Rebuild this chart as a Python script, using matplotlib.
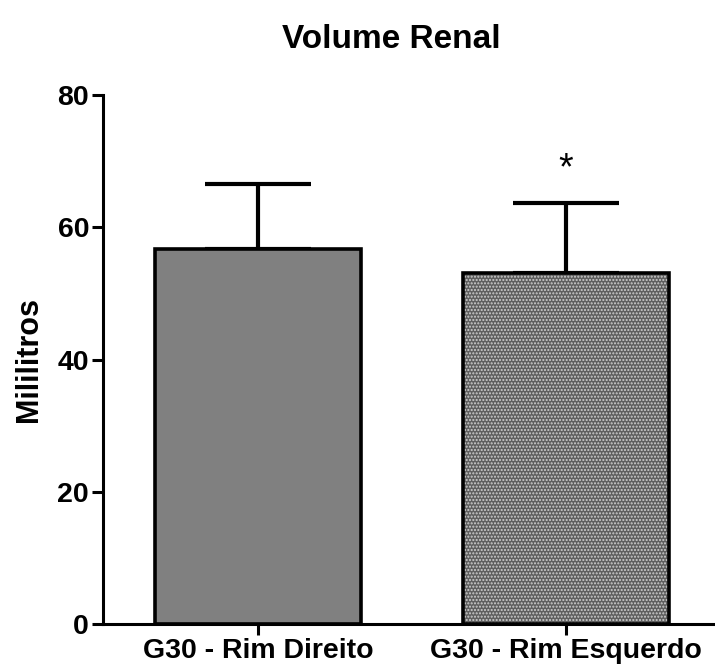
import numpy as np
import matplotlib
matplotlib.use("Agg")
import matplotlib.pyplot as plt

# datos
grupos = ['G30 - Rim Direito', 'G30 - Rim Esquerdo']
medias = [56.7, 53.1]
erros = [9.8, 10.5]
cores = ['#808080', '#8a8a8a']

plt.rcParams['font.family'] = ['Liberation Sans', 'DejaVu Sans']
plt.rcParams['font.weight'] = 'bold'

fig = plt.figure(figsize=(7.15, 6.7), dpi=100)
ax = fig.add_axes([103/715, 1-624/670, 1-103/715, (624-95)/670])

x = np.arange(len(grupos))
largura = 0.67

# barra 1 lisa
ax.bar(x[0], medias[0], largura, color=cores[0], edgecolor='black', linewidth=2.6, zorder=2)
# barra 2 com textura
ax.bar(x[1], medias[1], largura, color='#5e5e5e', edgecolor='#cfcfcf', hatch='.....',
       linewidth=0, zorder=2)
ax.bar(x[1], medias[1], largura, fill=False, edgecolor='black', linewidth=2.6, zorder=3)

# barras de erro (so para cima)
ax.errorbar(x, medias, yerr=[np.zeros(len(erros)), erros], fmt='none', ecolor='black',
            elinewidth=3, capsize=38, capthick=3, zorder=1)

ax.text(x[1], 68.8, '*', ha='center', va='center', fontsize=27, fontweight='normal')

ax.set_xlim(-0.503, 1.484)
ax.set_ylim(0, 80)
ax.set_yticks([0, 20, 40, 60, 80])
ax.set_xticks(x)
ax.set_xticklabels(grupos)

for s in ['top', 'right']:
    ax.spines[s].set_visible(False)
for s in ['left', 'bottom']:
    ax.spines[s].set_linewidth(2.2)
ax.tick_params(axis='both', length=8, width=2.2, labelsize=20.5, pad=2)
ax.set_ylabel('Mililitros', fontsize=22, fontweight='bold', labelpad=10)

fig.text(391/715, 1-40/670, 'Volume Renal', ha='center', va='center', fontsize=24, fontweight='bold')

fig.savefig('out.png', dpi=100)
